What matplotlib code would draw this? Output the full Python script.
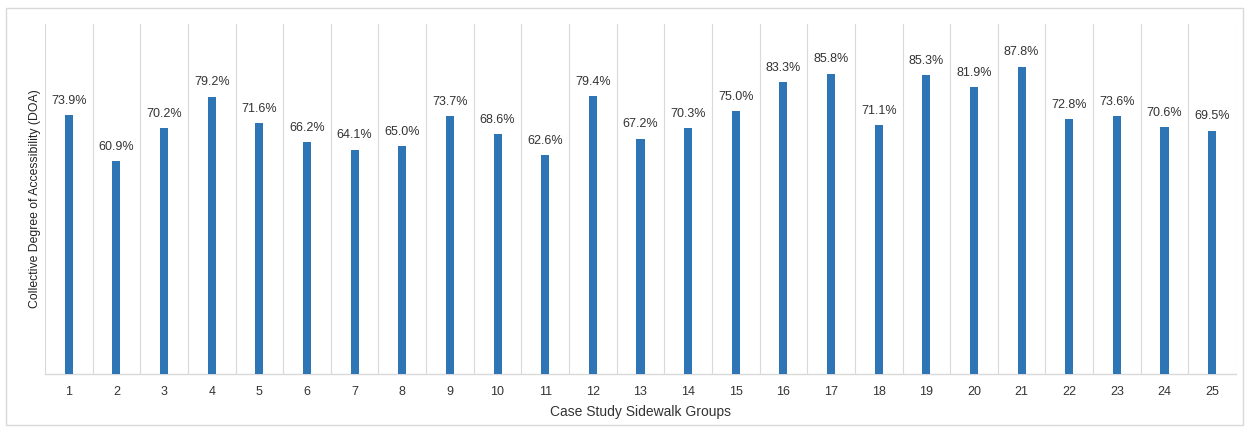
import numpy as np
import matplotlib.pyplot as plt
from matplotlib.patches import Rectangle

# data
groups = [str(i) for i in range(1, 26)]
doa = [73.9, 60.9, 70.2, 79.2, 71.6, 66.2, 64.1, 65.0, 73.7, 68.6,
       62.6, 79.4, 67.2, 70.3, 75.0, 83.3, 85.8, 71.1, 85.3, 81.9,
       87.8, 72.8, 73.6, 70.6, 69.5]

BAR_COLOR = '#2E75B6'
GRID_COLOR = '#D9D9D9'
TEXT_COLOR = '#333333'

plt.rcParams['font.family'] = ['Liberation Sans', 'DejaVu Sans']

fig = plt.figure(figsize=(12.49, 4.33), dpi=100)
ax = fig.add_axes([0.036, 0.1363, 0.9536, 0.8083])

x = np.arange(len(groups))
bars = ax.bar(x, doa, width=0.17, color=BAR_COLOR, zorder=3)

for xi, v in zip(x, doa):
    ax.annotate(f'{v:.1f}%', (xi, v), xytext=(0, 6), textcoords='offset points',
                ha='center', va='bottom', fontsize=9, color=TEXT_COLOR)

ax.set_xlim(-0.5, len(groups) - 0.5)
ax.set_ylim(0, 100)

# vertical gridlines between categories
for b in np.arange(-0.5, len(groups), 1.0):
    ax.axvline(b, color=GRID_COLOR, linewidth=0.8, zorder=1)

ax.set_xticks(x)
ax.set_xticklabels(groups, fontsize=9, color=TEXT_COLOR)
ax.tick_params(axis='x', length=0, pad=9)
ax.set_yticks([])

for side in ['top', 'right', 'left']:
    ax.spines[side].set_visible(False)
ax.spines['bottom'].set_color(GRID_COLOR)
ax.spines['bottom'].set_linewidth(1.0)

ax.set_xlabel('Case Study Sidewalk Groups', fontsize=10, color=TEXT_COLOR, labelpad=5)
ax.set_ylabel('Collective Degree of Accessibility (DOA)', fontsize=8.8,
              color='#222222', labelpad=3)

# outer chart frame
fig.patches.append(Rectangle((6 / 1249, 8 / 433), 1237 / 1249, 417 / 433,
                             transform=fig.transFigure, fill=False,
                             edgecolor=GRID_COLOR, linewidth=1.0))

plt.savefig('out.png', dpi=100)
plt.close()
